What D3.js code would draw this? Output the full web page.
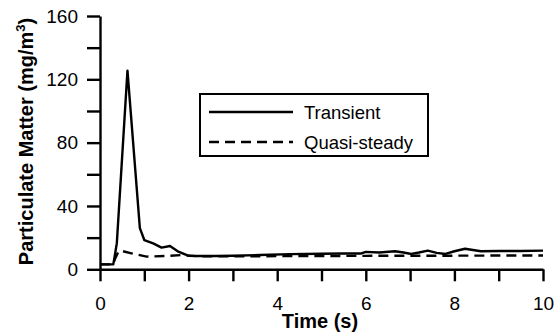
<!DOCTYPE html>
<html>
<head>
<meta charset="utf-8">
<script src="https://cdn.jsdelivr.net/npm/d3@7"></script>
<style>
  html, body { margin: 0; padding: 0; background: #fff; }
  svg { display: block; font-family: "Liberation Sans", Arial, sans-serif; }
</style>
</head>
<body>
<svg id="chart" width="554" height="335"></svg>
<script>
// ---- Data ----
const transientTime = [0, 0.3, 0.33, 0.38, 0.62, 0.9, 1.0, 1.2, 1.39, 1.58, 1.77, 1.99, 2.2, 2.6, 3.0, 3.6, 4.3, 5.0, 5.5, 5.9, 6.0, 6.3, 6.66, 6.85, 7.03, 7.2, 7.4, 7.6, 7.8, 8.0, 8.24, 8.6, 9.0, 9.5, 10];
const transientValues = [3.1, 3.1, 8, 16.5, 125.5, 26, 18.5, 16.4, 13.7, 14.7, 11.1, 8.6, 8.4, 8.4, 8.6, 9.0, 9.6, 9.8, 10.0, 10.0, 11.0, 10.6, 11.4, 10.6, 9.7, 10.6, 11.8, 10.4, 9.7, 11.4, 13.0, 11.4, 11.6, 11.6, 11.8];

const quasiTime = [0, 0.3, 0.33, 0.42, 0.49, 0.71, 1.05, 1.47, 1.84, 2.2, 3.0, 4.0, 5.0, 6.0, 7.0, 8.0, 9.0, 10];
const quasiValues = [3.1, 3.1, 6, 11.4, 11.6, 10.1, 8.0, 8.4, 9.0, 8.3, 8.2, 8.3, 8.4, 8.5, 8.6, 8.6, 8.7, 8.7];

const xTicks = [0, 1, 2, 3, 4, 5, 6, 7, 8, 9, 10];
const xTickLabels = ["0", "", "2", "", "4", "", "6", "", "8", "", "10"];
const yTicks = [0, 20, 40, 60, 80, 100, 120, 140, 160];
const yTickLabels = ["0", "", "40", "", "80", "", "120", "", "160"];

const seriesNames = ["Transient", "Quasi-steady"];
const xTitle = "Time (s)";
const yTitle = "Particulate Matter (mg/m";

// ---- Chart ----
const svg = d3.select("#chart");
const x = d3.scaleLinear().domain([0, 10]).range([100, 543]);
const y = d3.scaleLinear().domain([0, 160]).range([269.3, 16]);

const xAxis = d3.axisBottom(x)
  .tickValues(xTicks)
  .tickFormat((d, i) => xTickLabels[i])
  .tickSize(12).tickSizeOuter(0).tickPadding(15);
const gx = svg.append("g").attr("transform", `translate(0,${y(0)})`).call(xAxis);

const yAxis = d3.axisLeft(y)
  .tickValues(yTicks)
  .tickFormat((d, i) => yTickLabels[i])
  .tickSize(13).tickSizeOuter(0).tickPadding(9);
const gy = svg.append("g").attr("transform", `translate(${x(0)},0)`).call(yAxis);

[gx, gy].forEach(g => {
  g.selectAll("path.domain").attr("stroke", "#000").attr("stroke-width", 2.4);
  g.selectAll(".tick line").attr("stroke", "#000").attr("stroke-width", 2.4);
  g.selectAll(".tick text").attr("fill", "#000").style("font-size", "19px")
    .style("font-family", "'Liberation Sans', Arial, sans-serif");
});

const line = d3.line().x(d => x(d[0])).y(d => y(d[1]));

svg.append("path")
  .datum(quasiTime.map((t, i) => [t, quasiValues[i]]))
  .attr("d", line)
  .attr("fill", "none").attr("stroke", "#000").attr("stroke-width", 2.4)
  .attr("stroke-dasharray", "10,6");

svg.append("path")
  .datum(transientTime.map((t, i) => [t, transientValues[i]]))
  .attr("d", line)
  .attr("fill", "none").attr("stroke", "#000").attr("stroke-width", 2.4)
  .attr("stroke-linejoin", "round");

// Axis titles
svg.append("text")
  .attr("x", 320).attr("y", 328)
  .attr("text-anchor", "middle")
  .style("font-size", "20px").style("font-weight", "bold")
  .text(xTitle);

const yt = svg.append("text")
  .attr("transform", "translate(33,141.5) rotate(-90)")
  .attr("text-anchor", "middle")
  .style("font-size", "20px").style("font-weight", "bold");
yt.append("tspan").text(yTitle);
yt.append("tspan").attr("dy", -8).style("font-size", "13px").text("3");
yt.append("tspan").attr("dy", 8).text(")");

// Legend
const lg = svg.append("g");
lg.append("rect").attr("x", 200).attr("y", 94).attr("width", 228).attr("height", 62)
  .attr("fill", "#fff").attr("stroke", "#000").attr("stroke-width", 2);
const legendRows = [
  { name: seriesNames[0], y: 112, dash: null },
  { name: seriesNames[1], y: 142, dash: "10,6" }
];
legendRows.forEach(r => {
  lg.append("line").attr("x1", 209).attr("x2", 293).attr("y1", r.y).attr("y2", r.y)
    .attr("stroke", "#000").attr("stroke-width", 2.4)
    .attr("stroke-dasharray", r.dash);
  lg.append("text").attr("x", 304).attr("y", r.y + 6.5)
    .style("font-size", "18.5px").text(r.name);
});
</script>
</body>
</html>
